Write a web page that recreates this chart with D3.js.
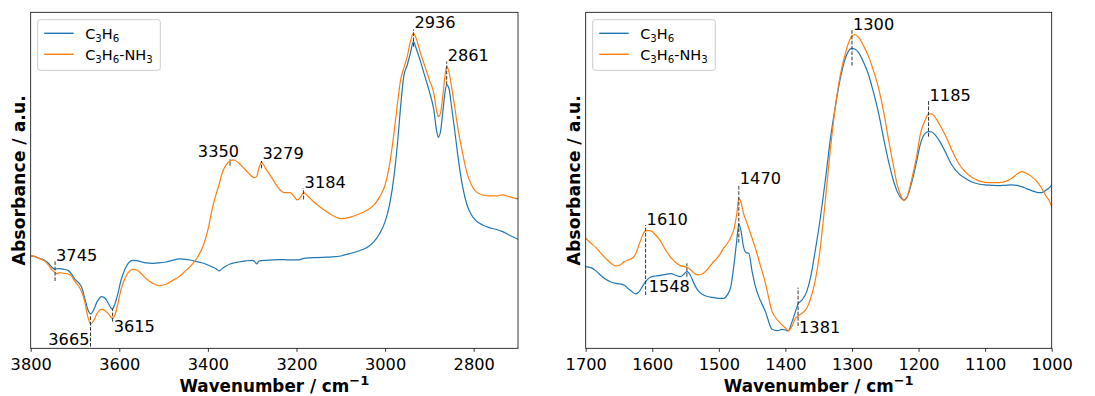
<!DOCTYPE html>
<html>
<head>
<meta charset="utf-8">
<script src="https://cdn.jsdelivr.net/npm/d3@7"></script>
<style>
  body { margin: 0; background: #fff; }
  svg { display: block; font-family: "DejaVu Sans", sans-serif; }
</style>
</head>
<body>
<svg id="chart" width="1095" height="396"></svg>
<script>
// ---- High-wavenumber region (O–H / N–H / C–H stretching), cm-1 ----
const hiWavenumber = [3800,3790,3780,3770,3760,3752,3745,3740,3735,3725,3715,3708,3700,3692,3685,3678,3672,3665,3658,3650,3640,3632,3624,3616,3610,3603,3596,3588,3580,3570,3560,3550,3540,3525,3510,3495,3480,3465,3450,3440,3425,3410,3400,3390,3382,3375,3368,3360,3350,3342,3330,3315,3300,3295,3290,3285,3279,3270,3255,3240,3228,3215,3205,3198,3190,3184,3175,3160,3140,3120,3100,3080,3060,3040,3025,3012,3000,2990,2980,2972,2965,2958,2950,2943,2936,2930,2920,2910,2900,2890,2884,2880,2875,2870,2865,2861,2856,2850,2843,2835,2825,2815,2805,2795,2780,2765,2750,2735,2720,2700];
const hiC3H6 = [0.277,0.275,0.270,0.265,0.255,0.243,0.237,0.239,0.239,0.237,0.233,0.223,0.207,0.197,0.183,0.150,0.120,0.103,0.115,0.140,0.155,0.150,0.133,0.117,0.133,0.165,0.205,0.235,0.255,0.264,0.263,0.259,0.256,0.255,0.256,0.259,0.264,0.268,0.267,0.265,0.260,0.255,0.250,0.244,0.239,0.232,0.239,0.246,0.253,0.256,0.259,0.262,0.264,0.261,0.253,0.261,0.263,0.264,0.265,0.266,0.266,0.265,0.265,0.265,0.267,0.270,0.271,0.272,0.273,0.274,0.277,0.284,0.292,0.303,0.320,0.345,0.380,0.430,0.515,0.615,0.725,0.815,0.850,0.885,0.920,0.900,0.860,0.815,0.770,0.715,0.655,0.633,0.650,0.705,0.765,0.790,0.780,0.725,0.655,0.570,0.485,0.430,0.400,0.383,0.370,0.362,0.357,0.350,0.340,0.327];
const hiC3H6NH3 = [0.277,0.275,0.269,0.263,0.250,0.235,0.227,0.223,0.227,0.225,0.223,0.217,0.200,0.187,0.170,0.140,0.100,0.073,0.083,0.105,0.117,0.113,0.103,0.090,0.100,0.135,0.177,0.207,0.227,0.237,0.235,0.223,0.210,0.195,0.188,0.192,0.203,0.215,0.233,0.245,0.270,0.310,0.355,0.420,0.460,0.490,0.525,0.548,0.562,0.565,0.555,0.535,0.515,0.512,0.515,0.540,0.558,0.540,0.510,0.480,0.467,0.467,0.455,0.445,0.455,0.467,0.457,0.438,0.417,0.400,0.389,0.393,0.402,0.415,0.430,0.455,0.490,0.550,0.645,0.735,0.805,0.840,0.875,0.920,0.945,0.930,0.885,0.845,0.805,0.765,0.715,0.695,0.705,0.755,0.815,0.845,0.830,0.785,0.725,0.655,0.585,0.525,0.490,0.470,0.460,0.457,0.457,0.460,0.455,0.448];
const hiTicks = [3800,3600,3400,3200,3000,2800];
const hiPeaks = [
  { wn: 3745, label: "3745", from: 0.202, to: 0.262 },
  { wn: 3665, label: "3665", from: 0.005, to: 0.100 },
  { wn: 3615, label: "3615", from: 0.080, to: 0.120 },
  { wn: 3350, label: "3350", from: 0.548, to: 0.567 },
  { wn: 3279, label: "3279", from: 0.540, to: 0.562 },
  { wn: 3184, label: "3184", from: 0.447, to: 0.480 },
  { wn: 2936, label: "2936", from: 0.905, to: 0.957 },
  { wn: 2861, label: "2861", from: 0.790, to: 0.860 }
];

// ---- Fingerprint region (C=C / C–H bending, C–O), cm-1 ----
const loWavenumber = [1700,1692,1685,1678,1670,1662,1655,1648,1642,1636,1630,1625,1620,1615,1610,1603,1595,1588,1580,1572,1565,1558,1552,1548,1543,1538,1532,1525,1518,1510,1500,1493,1487,1482,1477,1473,1470,1467,1463,1459,1455,1450,1445,1440,1430,1420,1412,1405,1400,1396,1390,1385,1381,1375,1368,1362,1355,1348,1340,1332,1325,1318,1310,1303,1300,1296,1290,1282,1275,1268,1260,1252,1245,1238,1232,1226,1222,1217,1210,1203,1197,1190,1185,1180,1175,1168,1160,1150,1140,1130,1120,1110,1100,1090,1080,1070,1060,1052,1045,1038,1030,1022,1015,1008,1003,1000];
const loC3H6 = [0.245,0.242,0.233,0.220,0.207,0.199,0.195,0.193,0.189,0.179,0.169,0.163,0.169,0.185,0.200,0.213,0.217,0.219,0.222,0.224,0.219,0.215,0.223,0.230,0.220,0.197,0.175,0.162,0.156,0.153,0.150,0.150,0.161,0.185,0.255,0.325,0.373,0.355,0.305,0.287,0.285,0.230,0.185,0.155,0.110,0.057,0.053,0.057,0.055,0.052,0.080,0.110,0.133,0.145,0.170,0.215,0.295,0.385,0.505,0.635,0.725,0.805,0.870,0.897,0.900,0.898,0.887,0.855,0.820,0.770,0.705,0.625,0.560,0.505,0.470,0.450,0.445,0.455,0.500,0.560,0.615,0.645,0.650,0.649,0.640,0.620,0.590,0.550,0.525,0.510,0.499,0.493,0.490,0.489,0.488,0.489,0.490,0.489,0.485,0.479,0.473,0.468,0.467,0.475,0.483,0.490];
const loC3H6NH3 = [0.330,0.315,0.303,0.287,0.270,0.255,0.247,0.250,0.260,0.265,0.270,0.283,0.310,0.337,0.353,0.353,0.340,0.323,0.295,0.272,0.258,0.248,0.245,0.243,0.237,0.227,0.220,0.223,0.235,0.255,0.277,0.300,0.315,0.333,0.360,0.405,0.450,0.440,0.405,0.383,0.360,0.330,0.300,0.265,0.195,0.110,0.085,0.070,0.061,0.052,0.067,0.090,0.097,0.105,0.120,0.150,0.205,0.295,0.445,0.605,0.725,0.815,0.885,0.927,0.937,0.941,0.933,0.905,0.875,0.835,0.780,0.705,0.625,0.550,0.490,0.455,0.443,0.455,0.510,0.575,0.645,0.685,0.703,0.703,0.693,0.670,0.640,0.595,0.555,0.530,0.513,0.503,0.498,0.497,0.497,0.500,0.510,0.523,0.530,0.525,0.515,0.500,0.480,0.455,0.440,0.425];
const loTicks = [1700,1600,1500,1400,1300,1200,1100,1000];
const loPeaks = [
  { wn: 1610, label: "1610", from: 0.160, to: 0.370 },
  { wn: 1548, label: "1548", from: 0.215, to: 0.255 },
  { wn: 1470, label: "1470", from: 0.317, to: 0.492 },
  { wn: 1381, label: "1381", from: 0.067, to: 0.182 },
  { wn: 1300, label: "1300", from: 0.848, to: 0.955 },
  { wn: 1185, label: "1185", from: 0.635, to: 0.742 }
];

// Where each peak label sits relative to its marker line
const labelPlacement = {
  "3745": { anchor: "start", ref: "top",    dx: 1,  dy: 0 },
  "3665": { anchor: "end",   ref: "bottom", dx: -1, dy: -1.5 },
  "3615": { anchor: "start", ref: "bottom", dx: 1,  dy: 10.6 },
  "3350": { anchor: "end",   ref: "top",    dx: 9,  dy: -2.6 },
  "3279": { anchor: "start", ref: "top",    dx: 1,  dy: -1.7 },
  "3184": { anchor: "start", ref: "top",    dx: 1,  dy: 0 },
  "2936": { anchor: "start", ref: "top",    dx: 1,  dy: -1 },
  "2861": { anchor: "start", ref: "top",    dx: 1,  dy: -1 },
  "1610": { anchor: "start", ref: "top",    dx: 1,  dy: 0 },
  "1548": { anchor: "end",   ref: "bottom", dx: 3,  dy: 15.6 },
  "1470": { anchor: "start", ref: "top",    dx: 1,  dy: 0 },
  "1381": { anchor: "start", ref: "bottom", dx: 1,  dy: 7 },
  "1300": { anchor: "start", ref: "top",    dx: 1,  dy: 0 },
  "1185": { anchor: "start", ref: "top",    dx: 1,  dy: 0 }
};

const blue = "#1f77b4", orange = "#ff7f0e";
const svg = d3.select("#chart");
const plotTop = 12.3, plotBottom = 348.3;

function drawPanel(opt) {
  const g = svg.append("g");
  const x = d3.scaleLinear().domain(opt.domain).range([opt.left, opt.right]);
  const y = d3.scaleLinear().domain([0, 1.008]).range([plotBottom, plotTop]);
  const clipId = "clip" + opt.left.toFixed(0);
  svg.append("clipPath").attr("id", clipId).append("rect")
    .attr("x", opt.left).attr("y", plotTop)
    .attr("width", opt.right - opt.left).attr("height", plotBottom - plotTop);

  // bottom axis
  const ax = g.append("g").attr("transform", `translate(0,${plotBottom})`)
    .call(d3.axisBottom(x).tickValues(opt.ticks).tickFormat(d3.format("d"))
      .tickSize(3.5).tickPadding(7));
  ax.select(".domain").remove();
  ax.selectAll(".tick line").attr("stroke", "#000").attr("stroke-width", 0.8);
  ax.selectAll(".tick text").attr("font-size", 16.2).attr("fill", "#000")
    .attr("font-family", "DejaVu Sans");

  // spectra
  const series = [
    { vals: opt.s1, color: blue },
    { vals: opt.s2, color: orange }
  ];
  const line = d3.line().curve(d3.curveMonotoneX);
  const plot = g.append("g").attr("clip-path", `url(#${clipId})`);
  series.forEach(s => {
    const pts = opt.wn.map((w, i) => [x(w), y(s.vals[i])]);
    plot.append("path").attr("d", line(pts)).attr("fill", "none")
      .attr("stroke", s.color).attr("stroke-width", 1.2)
      .attr("stroke-linejoin", "round");
  });

  // peak markers
  opt.peaks.forEach(p => {
    const px = x(p.wn);
    g.append("line").attr("x1", px).attr("x2", px)
      .attr("y1", y(p.from)).attr("y2", y(p.to))
      .attr("stroke", "#333").attr("stroke-width", 1)
      .attr("stroke-dasharray", "3.7,1.6");
    const pl = labelPlacement[p.label];
    const yRef = pl.ref === "top" ? y(p.to) : y(p.from);
    g.append("text").attr("x", px + pl.dx).attr("y", yRef + pl.dy)
      .attr("text-anchor", pl.anchor).attr("font-size", 16.2).attr("fill", "#000")
      .text(p.label);
  });

  // frame
  g.append("rect").attr("x", opt.left).attr("y", plotTop)
    .attr("width", opt.right - opt.left).attr("height", plotBottom - plotTop)
    .attr("fill", "none").attr("stroke", "#000").attr("stroke-width", 0.8);

  // x label
  const xl = g.append("text").attr("x", (opt.left + opt.right) / 2).attr("y", 392)
    .attr("text-anchor", "middle").attr("font-size", 16.8).attr("font-weight", "bold");
  xl.append("tspan").text("Wavenumber / cm");
  xl.append("tspan").attr("font-size", 13).attr("dy", -7).text("\u22121");

  // y label
  g.append("text")
    .attr("transform", `translate(${opt.left - 5.5},${(plotTop + plotBottom) / 2}) rotate(-90)`)
    .attr("text-anchor", "middle").attr("font-size", 17.3).attr("font-weight", "bold")
    .text("Absorbance / a.u.");

  // legend
  const lg = g.append("g").attr("transform", `translate(${opt.left + 7},${plotTop + 7.4})`);
  lg.append("rect").attr("width", 122.6).attr("height", 50.6).attr("rx", 2.5)
    .attr("fill", "#fff").attr("fill-opacity", 0.8)
    .attr("stroke", "#ccc").attr("stroke-width", 1);
  const entries = [
    { color: blue, parts: [["C", 0], ["3", 1], ["H", 0], ["6", 1]] },
    { color: orange, parts: [["C", 0], ["3", 1], ["H", 0], ["6", 1], ["-NH", 0], ["3", 1]] }
  ];
  entries.forEach((e, i) => {
    const cy = 13.6 + i * 21;
    lg.append("line").attr("x1", 6.5).attr("x2", 36).attr("y1", cy).attr("y2", cy)
      .attr("stroke", e.color).attr("stroke-width", 1.4);
    const t = lg.append("text").attr("x", 47.5).attr("y", cy + 5.3)
      .attr("font-size", 14.5).attr("fill", "#000");
    let sub = false;
    e.parts.forEach(([txt, isSub]) => {
      const ts = t.append("tspan").text(txt);
      if (isSub && !sub) { ts.attr("font-size", 10.2).attr("dy", 3); sub = true; }
      else if (!isSub && sub) { ts.attr("font-size", 14.5).attr("dy", -3); sub = false; }
      else if (isSub) ts.attr("font-size", 10.2);
    });
  });
}

drawPanel({ left: 30.7, right: 518, domain: [3800, 2700], ticks: hiTicks,
  wn: hiWavenumber, s1: hiC3H6, s2: hiC3H6NH3, peaks: hiPeaks });
drawPanel({ left: 585.7, right: 1051.7, domain: [1700, 1000], ticks: loTicks,
  wn: loWavenumber, s1: loC3H6, s2: loC3H6NH3, peaks: loPeaks });
</script>
</body>
</html>
